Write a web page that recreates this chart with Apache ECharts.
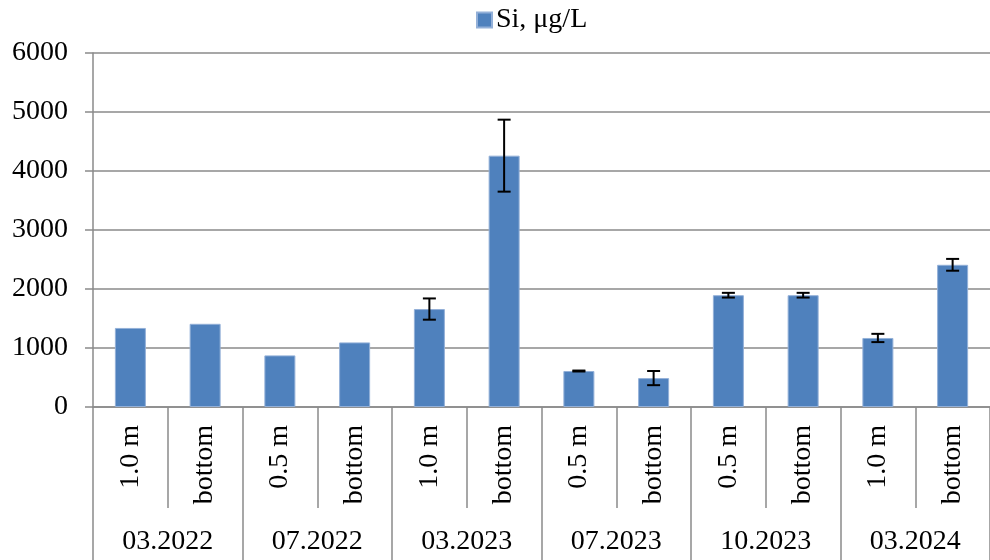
<!DOCTYPE html>
<html>
<head>
<meta charset="utf-8">
<script src="https://cdn.jsdelivr.net/npm/echarts@6/dist/echarts.min.js"></script>
<style>
  html, body { margin: 0; padding: 0; background: #fff; }
  #Chart_1 { width: 990px; height: 560px; }
</style>
</head>
<body>
<div id="Chart_1"></div>
<script>
var categories = ['1.0 m', 'bottom', '0.5 m', 'bottom', '1.0 m', 'bottom', '0.5 m', 'bottom', '0.5 m', 'bottom', '1.0 m', 'bottom'];
var groups = ['03.2022', '07.2022', '03.2023', '07.2023', '10.2023', '03.2024'];
var siValues = [1340, 1410, 875, 1095, 1660, 4260, 610, 490, 1895, 1895, 1170, 2410];
var siErrors = [0, 0, 0, 0, 180, 610, 8, 120, 40, 40, 70, 100];
var yTicks = [0, 6000, 1000];

var chart1 = echarts.init(document.getElementById('Chart_1'));
var font = 'Liberation Serif';
var gray = '#8a8a8a';

// error bars drawn on the same category axis, none where there is no error
var errData = [];
for (var i = 0; i < siValues.length; i++) {
    if (siErrors[i] > 0) {
        errData.push([i, siValues[i] - siErrors[i], siValues[i] + siErrors[i]]);
    }
}

var option1 = {
    backgroundColor: '#fff',
    animation: false,
    legend: {
        left: 476,
        top: 6,
        padding: 0,
        itemWidth: 15,
        itemHeight: 15,
        itemGap: 4,
        data: [{name: 'Si, μg/L', icon: 'rect'}],
        textStyle: {fontFamily: font, fontSize: 28, color: '#000', padding: [0, 0, 0, -1]}
    },
    grid: {
        left: 93,
        right: -10,
        top: 53,
        bottom: 153,
        containLabel: false
    },
    xAxis: [
        {
            type: 'category',
            data: categories,
            position: 'bottom',
            axisLine: {show: true, lineStyle: {color: gray, width: 1.5}},
            axisTick: {show: true, interval: 0, length: 101, lineStyle: {color: gray, width: 1.5}},
            axisLabel: {
                interval: 0,
                rotate: 90,
                margin: 18,
                fontFamily: font,
                fontSize: 28,
                color: '#000'
            }
        },
        {
            type: 'category',
            data: groups,
            position: 'bottom',
            axisLine: {show: false},
            axisTick: {show: true, interval: 0, length: 160, lineStyle: {color: gray, width: 1.5}},
            axisLabel: {
                interval: 0,
                margin: 121,
                fontFamily: font,
                fontSize: 28,
                color: '#000'
            }
        }
    ],
    yAxis: [
        {
            type: 'value',
            min: yTicks[0],
            max: yTicks[1],
            interval: yTicks[2],
            axisLine: {show: true, lineStyle: {color: gray, width: 1.5}},
            axisTick: {show: true, length: 8, lineStyle: {color: gray, width: 1.5}},
            splitLine: {show: true, lineStyle: {color: gray, width: 1.5}},
            axisLabel: {
                margin: 25,
                fontFamily: font,
                fontSize: 28,
                color: '#000',
                formatter: function (v) { return String(v); }
            }
        }
    ],
    series: [
        {
            name: 'Si, μg/L',
            type: 'bar',
            xAxisIndex: 0,
            barWidth: 31,
            itemStyle: {color: '#4F81BD', borderColor: '#93b0d8', borderWidth: 1},
            data: siValues
        },
        {
            name: 'err',
            type: 'custom',
            xAxisIndex: 0,
            z: 5,
            data: errData,
            renderItem: function (params, api) {
                var x = api.value(0);
                var lo = api.coord([x, api.value(1)]);
                var hi = api.coord([x, api.value(2)]);
                var w = 6.5;
                var style = {stroke: '#000', lineWidth: 2};
                return {
                    type: 'group',
                    children: [
                        {type: 'line', shape: {x1: hi[0], y1: hi[1], x2: lo[0], y2: lo[1]}, style: style},
                        {type: 'line', shape: {x1: hi[0] - w, y1: hi[1], x2: hi[0] + w, y2: hi[1]}, style: style},
                        {type: 'line', shape: {x1: lo[0] - w, y1: lo[1], x2: lo[0] + w, y2: lo[1]}, style: style}
                    ]
                };
            }
        }
    ]
};
chart1.setOption(option1);
</script>
</body>
</html>
